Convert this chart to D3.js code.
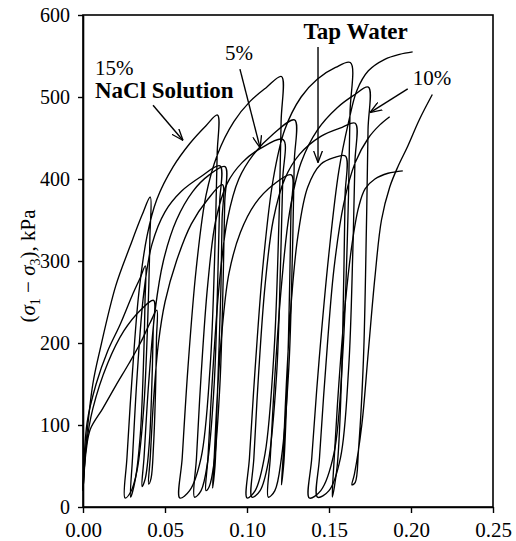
<!DOCTYPE html>
<html>
<head>
<meta charset="utf-8">
<script src="https://cdn.jsdelivr.net/npm/d3@7"></script>
<style>
  body { margin: 0; background: #fff; }
</style>
</head>
<body>
<div id="chart-area"></div>
<script>
// strain (x) vs deviator stress (kPa), cyclic loading
var nacl15 = [
  [0,20],[0.002,80],[0.006,150],[0.0104,192],[0.02,270],[0.0287,318],[0.036,356],[0.041,378],
  [0.0408,330],[0.0395,230],[0.037,120],[0.033,45],[0.029,18],[0.0256,11],
  [0.0268,60],[0.030,160],[0.034,260],[0.039,330],[0.045,375],[0.055,415],[0.065,443],[0.075,465],[0.082,478],
  [0.0818,430],[0.0805,320],[0.0775,170],[0.072,60],[0.065,20],[0.059,11],
  [0.0605,60],[0.064,170],[0.069,290],[0.075,380],[0.082,430],[0.092,470],[0.102,495],[0.112,512],[0.121,525],
  [0.1208,470],[0.1195,350],[0.1165,190],[0.111,65],[0.105,20],[0.100,11],
  [0.1015,60],[0.105,170],[0.110,300],[0.116,400],[0.123,460],[0.133,500],[0.143,522],[0.154,536],[0.163,542],
  [0.1628,480],[0.1615,350],[0.1585,190],[0.153,65],[0.145,20],[0.138,11],
  [0.1395,60],[0.144,180],[0.150,310],[0.156,410],[0.162,470],[0.167,508],[0.174,532],[0.184,546],[0.193,552],[0.201,555]
];
var nacl5 = [
  [0,20],[0.0025,103],[0.008,150],[0.015,190],[0.0225,222],[0.030,258],[0.035,280],[0.038,294],
  [0.0378,250],[0.0368,170],[0.035,90],[0.032,35],[0.029,12],
  [0.0302,60],[0.033,160],[0.037,260],[0.042,320],[0.05,360],[0.06,385],[0.072,403],[0.0835,416],
  [0.0833,370],[0.0822,280],[0.080,150],[0.076,55],[0.072,20],[0.068,12],
  [0.0692,60],[0.072,160],[0.076,270],[0.081,350],[0.088,395],[0.097,420],[0.108,437],[0.122,448],
  [0.1218,400],[0.1205,300],[0.118,160],[0.113,55],[0.108,20],[0.103,12],
  [0.1042,60],[0.107,160],[0.111,270],[0.116,350],[0.123,400],[0.132,430],[0.145,452],[0.158,463],[0.166,468],
  [0.1658,420],[0.1645,310],[0.162,170],[0.157,60],[0.150,20],[0.143,12],
  [0.1442,60],[0.148,170],[0.153,290],[0.159,370],[0.166,420],[0.174,450],[0.181,466],[0.187,476]
];
var nacl10 = [
  [0,20],[0.002,75],[0.006,120],[0.015,175],[0.025,215],[0.035,240],[0.043,252],
  [0.0428,215],[0.042,150],[0.0405,80],[0.038,35],[0.036,25],
  [0.0372,60],[0.040,150],[0.044,240],[0.049,300],[0.057,350],[0.067,385],[0.077,405],[0.0866,415],
  [0.0864,370],[0.0855,280],[0.0835,150],[0.080,55],[0.077,25],[0.075,20],
  [0.0762,60],[0.079,160],[0.083,270],[0.088,350],[0.095,400],[0.104,430],[0.116,455],[0.129,472],
  [0.1288,420],[0.1277,310],[0.1255,170],[0.121,60],[0.117,20],[0.113,12],
  [0.1142,60],[0.117,160],[0.121,270],[0.126,360],[0.133,420],[0.143,460],[0.155,487],[0.165,502],[0.174,512],
  [0.1738,460],[0.1728,340],[0.171,180],[0.168,70],[0.166,30],[0.164,27],
  [0.1655,40],[0.170,100],[0.174,190],[0.178,280],[0.182,350],[0.187,390],[0.192,415],[0.198,440],[0.205,472],[0.213,503]
];
var tapWater = [
  [0,20],[0.002,70],[0.0045,95],[0.012,120],[0.02,148],[0.028,175],[0.035,200],[0.041,225],[0.045,240],
  [0.0448,205],[0.0442,140],[0.043,75],[0.0415,35],[0.040,28],
  [0.041,60],[0.043,130],[0.046,200],[0.050,250],[0.057,300],[0.066,345],[0.076,375],[0.085,393],
  [0.0848,350],[0.084,260],[0.082,140],[0.0805,50],[0.079,23],
  [0.080,60],[0.082,140],[0.085,220],[0.089,285],[0.096,335],[0.105,370],[0.116,393],[0.127,405],
  [0.1268,360],[0.126,270],[0.1245,150],[0.1225,55],[0.121,27],
  [0.122,60],[0.124,150],[0.127,250],[0.131,330],[0.137,390],[0.145,418],[0.153,426],[0.160,428],
  [0.1598,380],[0.159,280],[0.1575,150],[0.155,50],[0.152,12],
  [0.1532,60],[0.156,150],[0.160,250],[0.164,320],[0.168,365],[0.172,388],[0.178,400],[0.186,407],[0.195,410]
];
var seriesList = [nacl15, nacl5, nacl10, tapWater];

var xTicks = [0, 0.05, 0.10, 0.15, 0.20, 0.25];
var yTicks = [0, 100, 200, 300, 400, 500, 600];

// annotation text and arrows (data coords)
var labels = [
  { text: "15%", x: 0.0073, y: 527, bold: false },
  { text: "NaCl Solution", x: 0.0073, y: 499, bold: true },
  { text: "5%", x: 0.0866, y: 545, bold: false },
  { text: "Tap Water", x: 0.1345, y: 571, bold: true },
  { text: "10%", x: 0.2010, y: 515, bold: false }
];
var arrows = [
  [[0.0427, 490], [0.0610, 447]],
  [[0.0957, 534], [0.1080, 438]],
  [[0.1433, 561], [0.1433, 420]],
  [[0.1980, 510], [0.1750, 481]]
];

var margin = { left: 83, right: 23, top: 15, bottom: 34 };
var W = 516, H = 541;
var width = W - margin.left - margin.right;
var height = H - margin.top - margin.bottom;
var serif = "'Liberation Serif', 'DejaVu Serif', serif";

var svg = d3.select("#chart-area").append("svg")
    .attr("width", W)
    .attr("height", H)
    .attr("font-family", serif);
var g = svg.append("g")
    .attr("transform", "translate(" + margin.left + "," + margin.top + ")");

var x = d3.scaleLinear().domain([0, 0.25]).range([0, width]);
var y = d3.scaleLinear().domain([0, 600]).range([height, 0]);

// frame
g.append("rect")
    .attr("width", width)
    .attr("height", height)
    .attr("fill", "none")
    .attr("stroke", "#000")
    .attr("stroke-width", 1.6);

var xAxis = g.append("g")
    .attr("transform", "translate(0," + height + ")")
    .call(d3.axisBottom(x).tickValues(xTicks).tickFormat(d3.format(".2f")).tickSize(6).tickSizeOuter(0));
var yAxis = g.append("g")
    .call(d3.axisLeft(y).tickValues(yTicks).tickFormat(d3.format("d")).tickSize(5).tickSizeOuter(0));

[xAxis, yAxis].forEach(function(a) {
    a.attr("font-family", serif);
    a.select(".domain").attr("stroke", "#000").attr("stroke-width", 1.6);
    a.selectAll(".tick line").attr("stroke", "#000").attr("stroke-width", 1.4);
    a.selectAll("text").attr("fill", "#000");
});
xAxis.selectAll("text").attr("font-size", 21).attr("dy", null).attr("y", 30);
yAxis.selectAll("text").attr("font-size", 20).attr("x", -13).attr("dy", "0.34em");

// y axis title
var yTitle = svg.append("text")
    .attr("transform", "translate(35,266) rotate(-90)")
    .attr("text-anchor", "middle")
    .attr("font-size", 21);
yTitle.append("tspan").text("(");
yTitle.append("tspan").attr("font-style", "italic").text("σ");
yTitle.append("tspan").attr("font-size", 14).attr("dy", 5).text("1");
yTitle.append("tspan").attr("dy", -5).text(" − ");
yTitle.append("tspan").attr("font-style", "italic").text("σ");
yTitle.append("tspan").attr("font-size", 14).attr("dy", 5).text("3");
yTitle.append("tspan").attr("dy", -5).text("), kPa");

// curves
var line = d3.line()
    .x(function(d) { return x(d[0]); })
    .y(function(d) { return y(d[1]); })
    .curve(d3.curveCatmullRom.alpha(0.5));

g.selectAll(".curve")
    .data(seriesList)
    .enter().append("path")
    .attr("class", "curve")
    .attr("d", line)
    .attr("fill", "none")
    .attr("stroke", "#000")
    .attr("stroke-width", 1.35)
    .attr("stroke-linejoin", "round");

// arrows
svg.append("defs").append("marker")
    .attr("id", "head")
    .attr("viewBox", "0 0 12 10")
    .attr("refX", 12).attr("refY", 5)
    .attr("markerWidth", 12).attr("markerHeight", 10)
    .attr("markerUnits", "userSpaceOnUse")
    .attr("orient", "auto")
    .append("path")
    .attr("d", "M0,0.5 L12,5 L0,9.5")
    .attr("fill", "none")
    .attr("stroke", "#000")
    .attr("stroke-width", 1.3);

g.selectAll(".arrow")
    .data(arrows)
    .enter().append("line")
    .attr("class", "arrow")
    .attr("x1", function(d) { return x(d[0][0]); })
    .attr("y1", function(d) { return y(d[0][1]); })
    .attr("x2", function(d) { return x(d[1][0]); })
    .attr("y2", function(d) { return y(d[1][1]); })
    .attr("stroke", "#000")
    .attr("stroke-width", 1.4)
    .attr("marker-end", "url(#head)");

g.selectAll(".label")
    .data(labels)
    .enter().append("text")
    .attr("class", "label")
    .attr("x", function(d) { return x(d.x); })
    .attr("y", function(d) { return y(d.y); })
    .attr("font-size", function(d) { return d.bold ? 23 : 21; })
    .attr("font-weight", function(d) { return d.bold ? "bold" : "normal"; })
    .text(function(d) { return d.text; });
</script>
</body>
</html>
